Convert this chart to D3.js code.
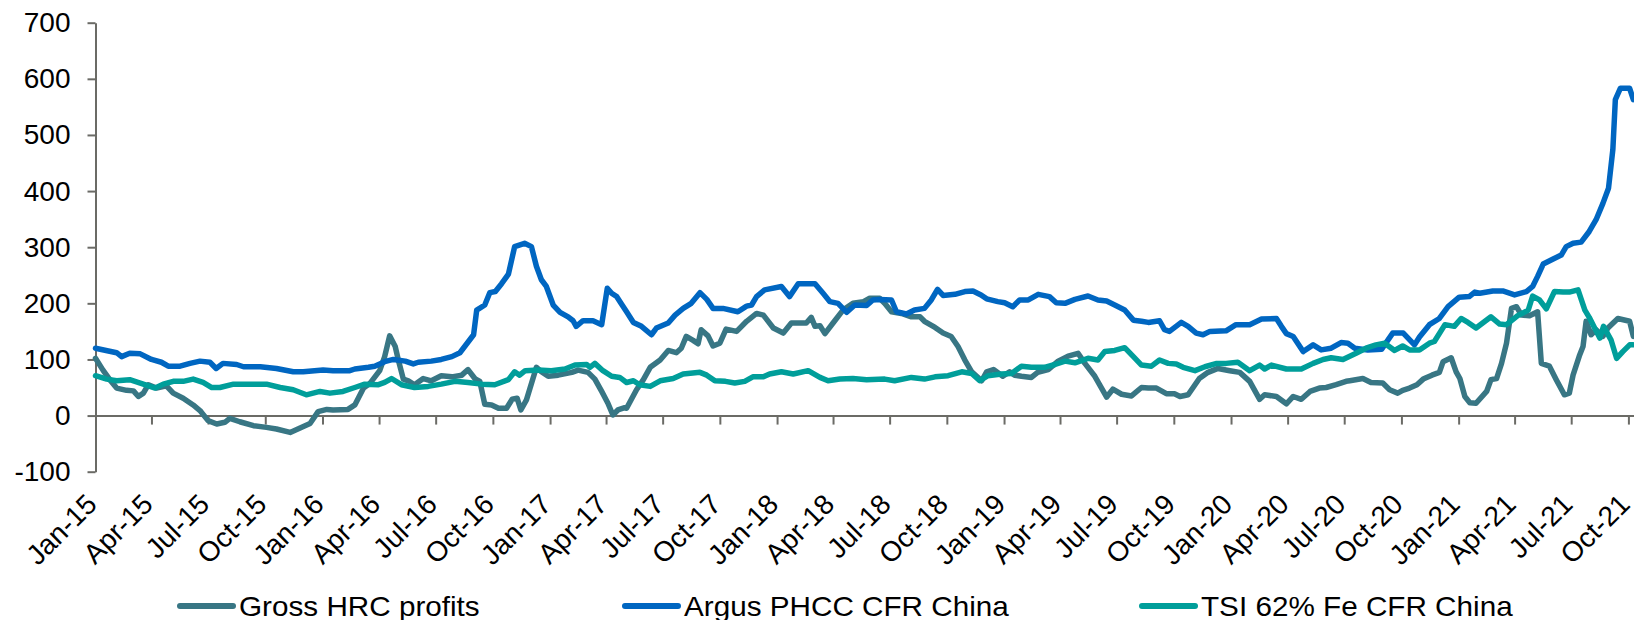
<!DOCTYPE html>
<html>
<head>
<meta charset="utf-8">
<script src="https://cdn.jsdelivr.net/npm/d3@7"></script>
<style>
  html, body { margin: 0; padding: 0; background: #fff; }
  svg { display: block; }
  text { font-family: "Liberation Sans", Arial, sans-serif; fill: #000; }
</style>
</head>
<body>
<svg id="chart" width="1634" height="620"></svg>
<script>
// Weekly series, sampled as [months elapsed since 1 Jan 2015, USD/t]
const grossHrc = [
  [0,102],[0.41,81],[0.77,64],[1.12,49],[1.65,45],[2.0,44],[2.26,34],[2.53,40],[2.79,55],[3.23,49],[3.76,53],[4.11,40],[4.64,31],[5.17,19],[5.52,9],[5.96,-9],[6.40,-15],[6.84,-12],[7.10,-5],[7.63,-11],[8.33,-18],[9.04,-21],[9.57,-24],[10.27,-30],[10.80,-22],[11.33,-14],[11.77,7],[12.21,11],[12.56,10],[13.35,11],[13.71,19],[14.15,49],[14.50,57],[15.03,80],[15.29,105],[15.55,142],[15.82,123],[15.99,99],[16.26,65],[16.53,62],[16.87,55],[17.31,66],[17.75,62],[18.28,71],[18.81,69],[19.34,72],[19.69,82],[20.04,66],[20.31,61],[20.57,20],[20.93,19],[21.29,13],[21.73,13],[22.00,29],[22.26,31],[22.46,10],[22.77,28],[23.30,86],[23.57,78],[23.92,70],[24.45,72],[25.15,77],[25.50,81],[26.03,77],[26.38,65],[26.73,43],[27.08,22],[27.35,1],[27.61,10],[27.96,14],[28.05,13],[28.58,46],[28.93,64],[29.29,86],[29.82,99],[30.25,116],[30.70,112],[30.96,120],[31.22,141],[31.57,134],[31.84,128],[32.01,153],[32.36,142],[32.63,124],[32.98,129],[33.33,154],[33.86,150],[34.39,168],[34.92,182],[35.27,179],[35.80,156],[36.33,147],[36.77,165],[37.56,165],[37.83,175],[38.00,159],[38.27,160],[38.53,146],[38.97,165],[39.50,188],[40.03,200],[40.56,203],[40.91,209],[41.43,209],[41.70,200],[42.05,185],[42.58,182],[43.11,176],[43.55,176],[43.81,168],[44.34,157],[44.78,147],[45.22,141],[45.57,123],[45.93,99],[46.28,78],[46.81,62],[47.07,78],[47.43,82],[47.95,70],[48.30,78],[48.57,72],[48.92,70],[49.44,68],[49.79,77],[50.32,82],[50.85,97],[51.39,106],[51.91,111],[52.27,93],[52.79,70],[53.41,33],[53.76,47],[54.20,38],[54.73,35],[55.26,50],[55.61,49],[56.05,49],[56.58,39],[57.01,39],[57.29,34],[57.72,37],[58.33,66],[58.78,77],[59.30,84],[59.92,80],[60.45,77],[60.98,61],[61.51,29],[61.77,37],[62.39,34],[62.92,21],[63.27,34],[63.71,29],[64.15,43],[64.67,49],[65.02,50],[65.55,55],[66.08,61],[66.26,62],[66.96,66],[67.40,59],[68.02,58],[68.37,46],[68.81,40],[69.07,45],[69.43,49],[69.80,55],[70.15,65],[70.60,72],[71.01,77],[71.19,96],[71.63,103],[71.90,78],[72.07,66],[72.33,34],[72.60,23],[72.95,22],[73.48,43],[73.74,64],[74.01,66],[74.27,93],[74.54,129],[74.80,191],[75.06,194],[75.33,179],[75.77,178],[76.20,185],[76.37,93],[76.82,88],[77.17,64],[77.61,37],[77.87,40],[78.05,72],[78.40,106],[78.58,123],[78.76,168],[79.02,144],[79.29,153],[79.64,141],[79.91,156],[80.43,173],[81.05,168],[81.25,141]
];

const argusPhcc = [
  [0,120],[1.12,112],[1.38,105],[1.82,111],[2.35,110],[2.97,100],[3.49,95],[3.85,88],[4.46,88],[4.99,93],[5.52,97],[6.05,95],[6.36,84],[6.75,93],[7.46,91],[7.81,87],[8.69,87],[9.57,84],[10.45,78],[10.98,78],[12.03,81],[12.56,80],[13.44,80],[13.71,83],[14.41,86],[14.76,88],[15.29,96],[15.73,100],[16.35,97],[16.79,92],[17.05,95],[17.75,97],[18.28,100],[18.81,105],[19.25,112],[19.96,144],[20.13,188],[20.57,197],[20.84,219],[21.11,221],[21.46,235],[21.81,252],[22.16,301],[22.68,307],[23.04,301],[23.30,266],[23.57,242],[23.83,230],[24.18,197],[24.53,184],[24.97,176],[25.24,169],[25.41,159],[25.77,169],[26.29,169],[26.73,162],[27.05,227],[27.26,218],[27.53,212],[27.75,200],[28.05,185],[28.41,166],[28.85,159],[29.37,144],[29.64,156],[30.25,165],[30.61,179],[31.05,191],[31.49,200],[31.93,219],[32.28,207],[32.63,191],[33.16,191],[33.95,185],[34.39,195],[34.65,197],[34.92,212],[35.36,224],[36.24,230],[36.68,212],[37.12,235],[38.00,235],[38.44,218],[38.80,203],[39.24,200],[39.68,184],[40.11,197],[40.73,196],[41.08,206],[41.43,207],[42.05,206],[42.32,185],[42.84,181],[43.28,188],[43.81,191],[44.16,206],[44.48,225],[44.78,214],[45.39,216],[45.92,221],[46.36,222],[46.80,215],[47.07,208],[47.68,203],[48.03,201],[48.47,194],[48.83,206],[49.27,206],[49.80,216],[50.41,212],[50.77,201],[51.21,200],[51.73,207],[52.44,213],[52.97,206],[53.41,204],[53.85,197],[54.37,188],[54.82,170],[55.26,168],[55.61,166],[56.22,169],[56.49,153],[56.75,150],[57.37,166],[57.72,159],[58.16,147],[58.51,144],[58.86,150],[59.74,151],[60.27,162],[60.98,162],[61.59,172],[62.39,173],[62.66,159],[62.92,146],[63.27,141],[63.79,114],[64.32,126],[64.76,117],[65.29,120],[65.82,130],[66.17,129],[66.52,120],[67.23,117],[67.93,118],[68.55,147],[69.08,147],[69.69,126],[69.96,140],[70.48,162],[71.01,173],[71.45,194],[72.06,211],[72.59,212],[72.86,220],[73.12,218],[73.83,222],[74.36,222],[74.97,215],[75.59,221],[75.94,230],[76.20,248],[76.47,270],[77.00,279],[77.44,286],[77.70,301],[78.05,307],[78.49,309],[78.93,328],[79.29,349],[79.64,378],[79.95,405],[80.17,474],[80.31,563],[80.55,583],[81.05,583],[81.25,563]
];

const tsiIronOre = [
  [0,71],[0.59,65],[1.12,62],[1.82,64],[2.35,58],[3.14,49],[3.58,56],[4.11,61],[4.64,61],[5.17,65],[5.70,59],[6.14,50],[6.58,50],[7.28,56],[8.16,56],[9.04,56],[9.75,50],[10.45,46],[11.15,37],[11.86,43],[12.39,40],[13.09,43],[13.71,50],[14.23,56],[14.94,55],[15.29,59],[15.64,66],[16.17,55],[16.87,50],[17.58,52],[18.28,56],[18.99,61],[19.69,59],[20.40,56],[21.10,55],[21.80,64],[22.16,78],[22.42,72],[22.69,80],[23.39,81],[24.09,80],[24.80,83],[25.33,90],[25.94,91],[26.12,86],[26.38,93],[26.82,80],[27.26,70],[27.70,68],[28.05,59],[28.41,62],[28.76,55],[29.29,52],[29.82,62],[30.52,66],[31.05,74],[31.93,77],[32.28,72],[32.72,62],[33.27,61],[33.78,58],[34.31,61],[34.74,69],[35.27,69],[35.63,74],[36.24,78],[36.85,74],[37.65,80],[38.27,68],[38.71,62],[39.32,65],[40.02,66],[40.73,64],[41.70,65],[42.23,62],[43.11,68],[43.81,65],[44.34,69],[45.04,71],[45.75,78],[46.28,75],[46.72,62],[47.16,71],[47.86,74],[48.39,75],[48.93,88],[49.45,86],[50.15,86],[50.68,91],[51.21,97],[51.73,94],[52.44,102],[52.97,99],[53.32,114],[53.85,116],[54.37,121],[54.82,105],[55.26,90],[55.78,88],[56.22,99],[56.67,93],[57.10,92],[57.45,86],[58.07,80],[58.60,87],[59.22,93],[59.74,93],[60.36,95],[60.98,80],[61.51,90],[61.77,83],[62.12,90],[62.92,83],[63.71,83],[64.32,93],[64.85,100],[65.29,103],[65.91,100],[66.61,111],[67.13,120],[67.66,126],[68.10,129],[68.63,116],[69.07,124],[69.43,117],[69.96,117],[70.48,129],[70.75,132],[71.28,162],[71.80,159],[72.16,173],[72.51,166],[72.95,156],[73.74,176],[74.18,163],[74.53,162],[75.15,178],[75.68,188],[75.94,213],[76.29,206],[76.65,190],[77.09,221],[77.53,220],[77.88,220],[78.32,224],[78.67,188],[78.93,175],[79.46,138],[79.67,159],[80.08,135],[80.35,102],[80.70,114],[81.05,126],[81.25,126]
];

const seriesNames = ["Gross HRC profits", "Argus PHCC CFR China", "TSI 62% Fe CFR China"];
const seriesColors = ["#387684", "#0066c1", "#009e9a"];
const yTicks = [-100, 0, 100, 200, 300, 400, 500, 600, 700];
const startDate = "2015-01-01";
const endDate = "2021-10-10";
const tickMonths = 3;

const svg = d3.select("#chart");
const plot = { left: 95.5, right: 1634, top: 22.7, bottom: 471.7 };
const fontSize = "28px";

const parse = d3.utcParse("%Y-%m-%d");
const t0 = parse(startDate);
const toDate = m => d3.utcDay.offset(t0, Math.round(m * 30.4375));

const x = d3.scaleUtc().domain([t0, parse(endDate)]).range([plot.left, plot.right]);
const y = d3.scaleLinear().domain([-100, 700]).range([plot.bottom, plot.top]);

const axisColor = "#6b6b66";

// Value axis (plain hyphen for negatives)
const yAxis = svg.append("g")
  .attr("transform", `translate(${plot.left},0)`)
  .call(d3.axisLeft(y).tickValues(yTicks).tickSize(8).tickPadding(17)
    .tickSizeOuter(0).tickFormat(d => String(d)));
yAxis.select(".domain").attr("stroke", axisColor).attr("stroke-width", 2);
yAxis.selectAll(".tick line").attr("stroke", axisColor).attr("stroke-width", 2);
yAxis.selectAll(".tick text")
  .style("font-family", '"Liberation Sans", Arial, sans-serif')
  .style("font-size", fontSize).attr("fill", "#000");

// Date axis crossing at zero
const xTickValues = x.ticks(d3.utcMonth.every(tickMonths));
const xAxis = svg.append("g")
  .attr("transform", `translate(0,${y(0)})`)
  .call(d3.axisBottom(x).tickValues(xTickValues).tickSize(9).tickSizeOuter(0).tickFormat(""));
xAxis.select(".domain").attr("stroke", axisColor).attr("stroke-width", 2);
xAxis.selectAll(".tick line").attr("stroke", axisColor).attr("stroke-width", 2);

// Date labels sit below the plot area, rotated
const fmt = d3.utcFormat("%b-%y");
svg.append("g").selectAll("text")
  .data(xTickValues)
  .join("text")
  .attr("transform", d => `translate(${x(d) + 3},506) rotate(-45)`)
  .attr("text-anchor", "end")
  .style("font-size", fontSize)
  .text(d => fmt(d));

// Series lines
const line = d3.line()
  .x(d => x(toDate(d[0])))
  .y(d => y(d[1]));

const allSeries = [grossHrc, argusPhcc, tsiIronOre];
svg.append("g").selectAll("path")
  .data(allSeries)
  .join("path")
  .attr("d", d => line(d))
  .attr("fill", "none")
  .attr("stroke", (d, i) => seriesColors[i])
  .attr("stroke-width", 5.5)
  .attr("stroke-linejoin", "round")
  .attr("stroke-linecap", "round");

// Legend
const legendX = [180, 625, 1142];
const legendY = 606;
const lg = svg.append("g").selectAll("g")
  .data(seriesNames)
  .join("g")
  .attr("transform", (d, i) => `translate(${legendX[i]},${legendY})`);
lg.append("line")
  .attr("x1", 0).attr("x2", 53).attr("y1", 0).attr("y2", 0)
  .attr("stroke", (d, i) => seriesColors[i])
  .attr("stroke-width", 6)
  .attr("stroke-linecap", "round");
lg.append("text")
  .attr("transform", "translate(59,10) scale(1.06,1)")
  .style("font-size", fontSize)
  .text(d => d);
</script>
</body>
</html>
